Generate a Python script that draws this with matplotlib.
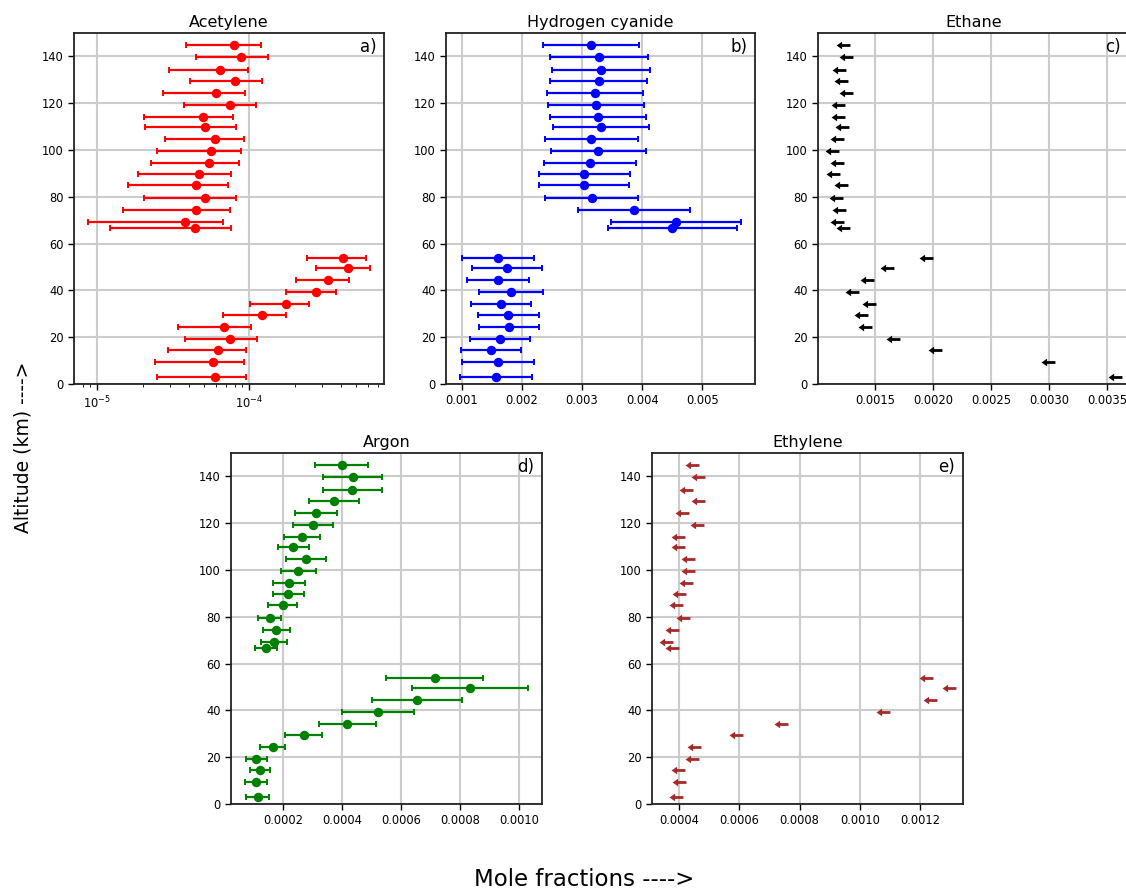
import numpy as np
import matplotlib
matplotlib.use("Agg")
import matplotlib.pyplot as plt

FIG_W, FIG_H = 1126, 892

# altitudes shared by all five profiles (km)
altitude = [144.9, 139.6, 134.3, 129.3, 124.4, 119.1, 114.3, 109.7, 104.7, 99.6,
            94.3, 89.6, 84.9, 79.4, 74.3, 69.4, 66.6, 53.7, 49.6, 44.4,
            39.4, 34.4, 29.4, 24.3, 19.3, 14.6, 9.3, 3.1]

acetylene = [7.87e-5, 8.87e-5, 6.38e-5, 8.07e-5, 6.01e-5, 7.41e-5, 4.93e-5, 5.10e-5, 5.98e-5, 5.61e-5,
             5.39e-5, 4.69e-5, 4.44e-5, 5.08e-5, 4.48e-5, 3.77e-5, 4.42e-5, 4.14e-4, 4.48e-4, 3.29e-4,
             2.74e-4, 1.74e-4, 1.21e-4, 6.81e-5, 7.49e-5, 6.23e-5, 5.78e-5, 5.96e-5]
acetylene_err = [4.05e-5, 4.4e-5, 3.4e-5, 4.0e-5, 3.3e-5, 3.7e-5, 2.9e-5, 3.05e-5, 3.2e-5, 3.15e-5,
                 3.15e-5, 2.85e-5, 2.85e-5, 3.05e-5, 3.0e-5, 2.9e-5, 3.2e-5, 1.75e-4, 1.73e-4, 1.26e-4,
                 1.0e-4, 7.3e-5, 5.4e-5, 3.4e-5, 3.7e-5, 3.3e-5, 3.4e-5, 3.5e-5]

hcn = [0.003158, 0.003285, 0.003318, 0.003279, 0.003213, 0.003235, 0.003263, 0.003313, 0.003158, 0.003274,
       0.003136, 0.003042, 0.003036, 0.003163, 0.003871, 0.004563, 0.004502, 0.001603, 0.001758, 0.001609,
       0.001819, 0.001658, 0.001780, 0.001791, 0.001642, 0.001492, 0.001609, 0.001575]
hcn_err = [0.000797, 0.00081, 0.00082, 0.000805, 0.000795, 0.0008, 0.0008, 0.0008, 0.00077, 0.00079,
           0.00077, 0.00075, 0.00075, 0.00077, 0.00093, 0.00108, 0.00107, 0.0006, 0.00058, 0.00052,
           0.00053, 0.0005, 0.00051, 0.0005, 0.0005, 0.0005, 0.0006, 0.0006]

ethane = [0.001225, 0.001249, 0.001185, 0.001205, 0.001246, 0.001176, 0.001176, 0.001214, 0.001168, 0.001127,
          0.001168, 0.001133, 0.001202, 0.001159, 0.001182, 0.001173, 0.001217, 0.001939, 0.001601, 0.001425,
          0.001295, 0.001442, 0.001379, 0.001410, 0.001650, 0.002017, 0.002988, 0.003569]

argon = [0.000398, 0.000436, 0.000434, 0.000372, 0.000312, 0.000301, 0.000263, 0.000234, 0.000278, 0.000251,
         0.000220, 0.000217, 0.000197, 0.000153, 0.000176, 0.000168, 0.000140, 0.000713, 0.000833, 0.000654,
         0.000521, 0.000417, 0.000269, 0.000164, 0.000108, 0.000121, 0.000107, 0.000112]
argon_err = [0.00009, 0.0001, 0.0001, 0.000085, 0.000071, 0.000069, 0.00006, 0.000054, 0.000068, 0.000058,
             0.000054, 0.000052, 0.000048, 0.000038, 0.000045, 0.000044, 0.000038, 0.000165, 0.000197, 0.000154,
             0.000122, 0.000096, 0.000063, 0.000042, 0.000035, 0.000034, 0.000037, 0.000038]

ethylene = [0.000443, 0.000464, 0.000423, 0.000464, 0.000411, 0.000460, 0.000396, 0.000396, 0.000429, 0.000430,
            0.000422, 0.000399, 0.000389, 0.000414, 0.000377, 0.000357, 0.000377, 0.001219, 0.001296, 0.001234,
            0.001077, 0.000738, 0.000588, 0.000449, 0.000444, 0.000396, 0.000400, 0.000391]

# left pointing arrow used for the upper limits
ARROW = [(-1, 0), (-0.2, 0.55), (-0.2, 0.2), (1, 0.2), (1, -0.2),
         (-0.2, -0.2), (-0.2, -0.55), (-1, 0)]


def px_axes(fig, left, top, right, bottom):
    # place an axes from pixel edges measured on the picture
    return fig.add_axes([left / FIG_W, 1 - bottom / FIG_H,
                         (right - left) / FIG_W, (bottom - top) / FIG_H])


def style(ax, title, tag):
    ax.set_ylim(0, 150)
    ax.set_yticks(range(0, 141, 20))
    ax.grid(True, color='#cccccc', lw=1.5)
    ax.tick_params(labelsize=8.3, width=1, length=4)
    for s in ax.spines.values():
        s.set_linewidth(1.3)
        s.set_color('#222222')
    ax.set_title(title, fontsize=11.5, pad=4)
    ax.text(0.975, 0.985, tag, transform=ax.transAxes, ha='right', va='top', fontsize=12)


def with_errors(ax, x, xerr, color):
    ax.errorbar(x, altitude, xerr=xerr, fmt='o', color=color, ms=5.8,
                elinewidth=1.6, capsize=2.2, capthick=1.4)


def upper_limits(ax, x, color):
    ax.plot(x, altitude, ls='none', marker=ARROW, ms=10, mew=0, color=color)


fig = plt.figure(figsize=(FIG_W / 100, FIG_H / 100), dpi=100)

ax_a = px_axes(fig, 74, 33, 384, 384)
with_errors(ax_a, acetylene, acetylene_err, 'r')
ax_a.set_xscale('log')
style(ax_a, 'Acetylene', 'a)')

ax_b = px_axes(fig, 446, 33, 755, 384)
with_errors(ax_b, hcn, hcn_err, 'b')
style(ax_b, 'Hydrogen cyanide', 'b)')

ax_c = px_axes(fig, 818, 33, 1129, 384)
upper_limits(ax_c, ethane, 'k')
style(ax_c, 'Ethane', 'c)')

ax_d = px_axes(fig, 231, 453, 542, 804)
with_errors(ax_d, argon, argon_err, 'g')
style(ax_d, 'Argon', 'd)')

ax_e = px_axes(fig, 652, 453, 963, 804)
upper_limits(ax_e, ethylene, 'brown')
style(ax_e, 'Ethylene', 'e)')

fig.text(23 / FIG_W, 1 - 447 / FIG_H, 'Altitude (km) ---->', rotation=90,
         ha='center', va='center', fontsize=13.5)
fig.text(584 / FIG_W, 0.5 / FIG_H, 'Mole fractions ---->', ha='center', va='bottom', fontsize=16.5)

fig.savefig('out.png', dpi=100)
